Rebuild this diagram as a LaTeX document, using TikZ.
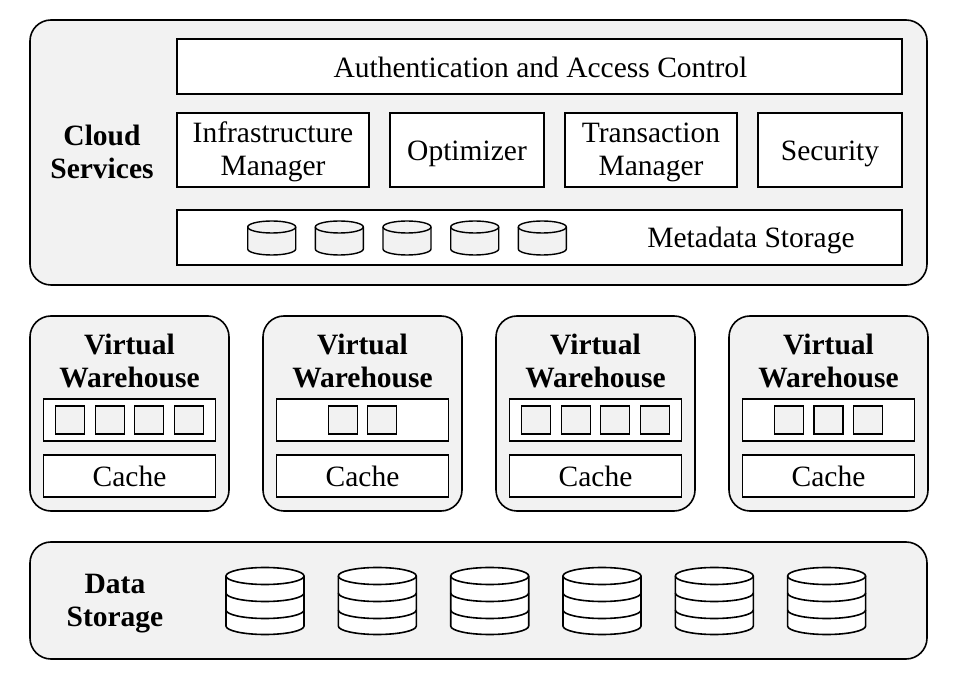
\documentclass[tikz,border=0pt]{standalone}
\usepackage{fontspec}
\setmainfont{Liberation Serif}
\definecolor{panelgray}{HTML}{F2F2F2}
\begin{document}
\begin{tikzpicture}[x=1pt,y=1pt,
  every node/.style={font=\fontsize{29.5}{33}\selectfont},
  panel/.style={draw=black,line width=1.6pt,fill=panelgray,rounded corners=21pt,inner sep=0pt},
  whitebox/.style={draw=black,line width=1.6pt,fill=white,inner sep=0pt},
  txt/.style={inner sep=0pt,align=center},
  slot/.style={draw=black,line width=1.4pt,fill=panelgray,minimum width=29pt,minimum height=28pt,inner sep=0pt},
  title/.style={font=\fontsize{29.5}{33}\selectfont\bfseries,align=center,inner sep=0pt},
  mdcyl/.pic={
    \path[fill=panelgray,draw=black,line width=1.4pt]
      (-24,0) -- (-24,-22) arc[start angle=180,end angle=360,x radius=24,y radius=6]
      -- (24,0) arc[start angle=0,end angle=180,x radius=24,y radius=6] -- cycle;
    \draw[line width=1.4pt] (-24,0) arc[start angle=180,end angle=360,x radius=24,y radius=6];
  },
  dscyl/.pic={
    \path[fill=white,draw=black,line width=1.6pt]
      (-39,0) -- (-39,-50) arc[start angle=180,end angle=360,x radius=39,y radius=8.5]
      -- (39,0) arc[start angle=0,end angle=180,x radius=39,y radius=8.5] -- cycle;
    \foreach \yy in {0,-17,-34}
      \draw[line width=1.6pt] (-39,\yy) arc[start angle=180,end angle=360,x radius=39,y radius=8.5];
  }]
\useasboundingbox (0,0) rectangle (964,683);
\fill[white] (0,0) rectangle (964,683);

% Cloud services layer
\node[panel,minimum width=897pt,minimum height=265pt] (cloud) at (478.5,530.5) {};
\node[title] (cloudlbl) at (102,531) {Cloud\\Services};
\node[whitebox,minimum width=725pt,minimum height=55pt] (auth) at (539.5,616.5) {};
\node[txt] (authlbl) at ([xshift=1pt,yshift=-1pt]auth.center) {Authentication and Access Control};
\node[whitebox,minimum width=192pt,minimum height=74pt] (infra) at (273,533) {};
\node[txt] (infralbl) at ([yshift=-2pt]infra.center) {Infrastructure\\Manager};
\node[whitebox,minimum width=154pt,minimum height=74pt] (opt) at (467,533) {};
\node[txt] (optlbl) at ([yshift=-3.5pt]opt.center) {Optimizer};
\node[whitebox,minimum width=172pt,minimum height=74pt] (trans) at (651,533) {};
\node[txt] (translbl) at ([yshift=-2pt]trans.center) {Transaction\\Manager};
\node[whitebox,minimum width=144pt,minimum height=74pt] (sec) at (830,533) {};
\node[txt] (seclbl) at ([yshift=-3.5pt]sec.center) {Security};
\node[whitebox,minimum width=725pt,minimum height=55pt] (meta) at (539.5,445.5) {};
\node[txt] (metalbl) at (751,443) {Metadata Storage};
\foreach \cx in {271.7,339.3,407,474.7,542.3}
  \pic at (\cx,456) {mdcyl};

% Virtual warehouses
\foreach \i/\n in {0/4,1/2,2/4,3/3}{
  \pgfmathsetmacro{\cx}{129.5+233*\i}
  \node[panel,minimum width=199pt,minimum height=195pt] (vw\i) at (\cx,269.5) {};
  \node[title] (vwlbl\i) at (\cx,322) {Virtual\\Warehouse};
  \node[whitebox,minimum width=172pt,minimum height=42pt] (pool\i) at (\cx,263) {};
  \node[whitebox,minimum width=172pt,minimum height=42pt] (cache\i) at (\cx,207) {};
  \node[txt] (cachelbl\i) at (\cx,207) {Cache};
  \foreach \k in {1,...,\n}{
    \pgfmathsetmacro{\sx}{\cx+39.5*(\k-(\n+1)/2)}
    \node[slot] (slot\i\k) at (\sx,263) {};
  }
}

% Data storage layer
\node[panel,minimum width=897pt,minimum height=117pt] (data) at (478.5,82.5) {};
\node[title] (datalbl) at (115,79) {Data\\Storage};
\foreach \cx in {265,377.3,489.7,602,714.3,826.6}
  \pic at (\cx,107) {dscyl};
\end{tikzpicture}
\end{document}
